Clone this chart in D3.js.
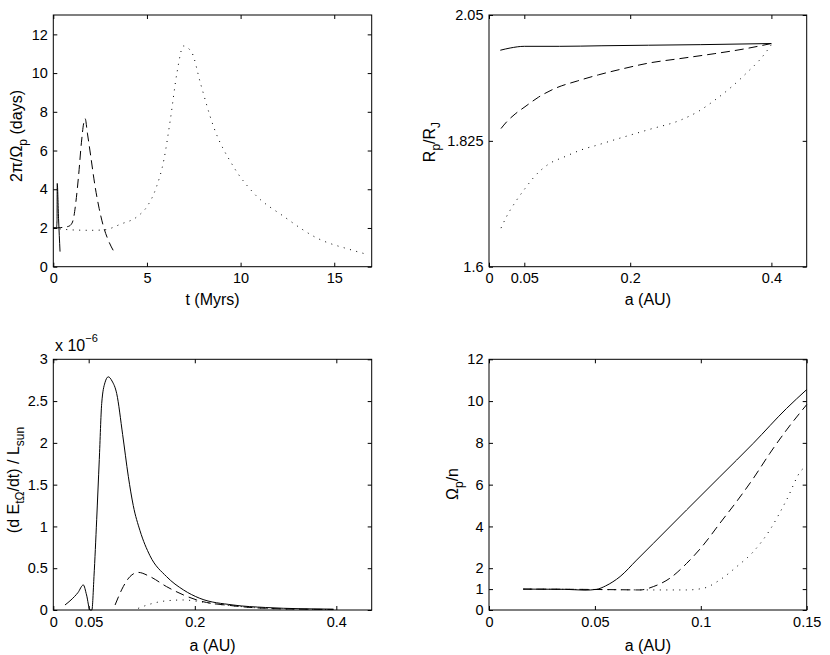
<!DOCTYPE html>
<html>
<head>
<meta charset="UTF-8">
<title>Planet spin evolution</title>
<style>
html, body {
    margin: 0;
    padding: 0;
    background-color: #fff;
}
svg {
    display: block;
    font-family: "Liberation Sans", Arial, Helvetica, sans-serif;
}
.curve {
    fill: none;
    stroke: #000;
    stroke-width: 1;
}
.dash { stroke-dasharray: 9, 5; }
.dot { stroke-dasharray: 1, 5.5; }
.tick text { font-size: 14.5px; fill: #000; }
.tick line { stroke: #000; }
.frame { fill: none; stroke: #000; stroke-width: 1; }
.lbl { font-size: 16px; fill: #000; }
</style>
</head>
<body>
<svg id="fig" width="830" height="655"></svg>
<script src="https://cdn.jsdelivr.net/npm/d3@7/dist/d3.min.js"></script>
<script>
// top left: 2pi/Omega_p (days) against t (Myrs)
let tSolid = [0, 0.1, 0.17, 0.2, 0.21, 0.28, 0.36];
let pSolid = [2.0, 2.0, 2.03, 2.4, 4.3, 2.5, 0.78];
let tDash = [0, 0.4, 0.8, 1.0, 1.1, 1.2, 1.35, 1.5, 1.62, 1.7, 1.82, 2.0, 2.23, 2.45, 2.68, 2.9, 3.1, 3.3];
let pDash = [2.0, 2.02, 2.08, 2.25, 2.6, 3.3, 4.7, 6.4, 7.4, 7.65, 6.9, 5.7, 4.15, 3.0, 2.07, 1.45, 1.02, 0.68];
let tDot = [0, 1, 2, 2.7, 3.6, 4.5, 5.0, 5.5, 5.9, 6.25, 6.6, 6.95, 7.4, 7.85, 8.55, 9.6, 10.7, 12.3, 14.1, 15.9, 16.7];
let pDot = [2.0, 1.9, 1.88, 1.9, 2.2, 2.6, 3.1, 4.1, 5.5, 7.6, 10.0, 11.4, 11.05, 9.5, 7.25, 5.2, 3.8, 2.6, 1.47, 0.87, 0.65];

// top right: Rp/RJ against a (AU)
let aRSolid = [0.016, 0.03, 0.05, 0.1, 0.16, 0.226, 0.3, 0.4];
let rSolid = [1.987, 1.991, 1.994, 1.994, 1.995, 1.996, 1.997, 1.999];
let aRDash = [0.017, 0.025, 0.037, 0.051, 0.07, 0.094, 0.125, 0.155, 0.19, 0.226, 0.27, 0.32, 0.36, 0.4];
let rDash = [1.847, 1.859, 1.873, 1.886, 1.903, 1.919, 1.932, 1.943, 1.954, 1.964, 1.972, 1.981, 1.989, 1.999];
let aRDot = [0.017, 0.025, 0.037, 0.05, 0.065, 0.084, 0.108, 0.131, 0.155, 0.178, 0.226, 0.273, 0.297, 0.32, 0.344, 0.367, 0.385, 0.4];
let rDot = [1.669, 1.69, 1.715, 1.738, 1.762, 1.783, 1.797, 1.809, 1.818, 1.827, 1.845, 1.863, 1.878, 1.898, 1.922, 1.949, 1.972, 1.997];

// bottom left: (dE/dt)/Lsun in units of 1e-6 against a (AU)
let aESolid = [0.0165, 0.025, 0.035, 0.0424, 0.047, 0.0519, 0.0545, 0.0575, 0.0613, 0.065, 0.0684, 0.073, 0.0777, 0.083, 0.0896, 0.098, 0.106, 0.113, 0.1225, 0.1366, 0.16, 0.184, 0.207, 0.254, 0.3, 0.35, 0.396];
let eSolid = [0.06, 0.12, 0.21, 0.30, 0.18, 0.0, 0.0, 0.4, 1.08, 1.8, 2.47, 2.72, 2.79, 2.74, 2.59, 2.1, 1.6, 1.25, 0.95, 0.65, 0.40, 0.24, 0.14, 0.06, 0.03, 0.015, 0.01];
let aEDash = [0.0873, 0.0989, 0.1084, 0.12, 0.1366, 0.16, 0.184, 0.2027, 0.254, 0.3, 0.35, 0.396];
let eDash = [0.06, 0.28, 0.40, 0.45, 0.40, 0.28, 0.18, 0.12, 0.05, 0.02, 0.01, 0.006];
let aEDot = [0.12, 0.1366, 0.16, 0.184, 0.207, 0.231, 0.254, 0.3, 0.35, 0.396];
let eDot = [0.02, 0.07, 0.11, 0.12, 0.10, 0.07, 0.05, 0.02, 0.01, 0.005];

// bottom right: Omega_p/n against a (AU)
let aOSolid = [0.0162, 0.0359, 0.0453, 0.0508, 0.055, 0.0585, 0.0619, 0.0697, 0.0776, 0.0933, 0.109, 0.1248, 0.1405, 0.15];
let oSolid = [1.0, 0.99, 0.95, 0.99, 1.15, 1.35, 1.6, 2.39, 3.19, 4.79, 6.38, 7.98, 9.65, 10.55];
let aODash = [0.0162, 0.04, 0.0619, 0.0713, 0.0776, 0.0854, 0.0933, 0.1012, 0.109, 0.1169, 0.1248, 0.1326, 0.1405, 0.15];
let oDash = [1.0, 0.99, 0.97, 0.96, 1.12, 1.52, 2.23, 3.11, 4.15, 5.19, 6.3, 7.5, 8.62, 9.83];
let aODot = [0.0162, 0.05, 0.0776, 0.0933, 0.1012, 0.109, 0.1169, 0.1248, 0.1326, 0.1405, 0.1476, 0.1495];
let oDot = [1.0, 0.98, 0.96, 0.96, 1.04, 1.44, 2.07, 2.79, 3.83, 5.27, 6.7, 6.85];

// ticks
let tTicks = [0, 5, 10, 15], pTicks = [0, 2, 4, 6, 8, 10, 12];
let aTicksWide = [0, 0.05, 0.2, 0.4], rTicks = [1.6, 1.825, 2.05];
let eTicks = [0, 0.5, 1, 1.5, 2, 2.5, 3];
let aTicksNarrow = [0, 0.05, 0.1, 0.15], oTicks = [0, 1, 2, 4, 6, 8, 10, 12];

let svg = d3.select('#fig');
let tickLen = 4;

function panel(box, xDom, yDom, xTicks, yTicks) {
    let x = d3.scaleLinear().domain(xDom).range([box.left, box.right]);
    let y = d3.scaleLinear().domain(yDom).range([box.bottom, box.top]);
    let g = svg.append('g');

    g.append('g')
        .attr('transform', `translate(0,${box.bottom})`)
        .call(d3.axisBottom(x).tickValues(xTicks).tickFormat(String)
            .tickSizeInner(-tickLen).tickSizeOuter(0).tickPadding(6.5));
    g.append('g')
        .attr('transform', `translate(0,${box.top})`)
        .call(d3.axisTop(x).tickValues(xTicks).tickFormat('')
            .tickSizeInner(-tickLen).tickSizeOuter(0));
    g.append('g')
        .attr('transform', `translate(${box.left},0)`)
        .call(d3.axisLeft(y).tickValues(yTicks).tickFormat(String)
            .tickSizeInner(-tickLen).tickSizeOuter(0).tickPadding(5.5));
    g.append('g')
        .attr('transform', `translate(${box.right},0)`)
        .call(d3.axisRight(y).tickValues(yTicks).tickFormat('')
            .tickSizeInner(-tickLen).tickSizeOuter(0));
    g.selectAll('.domain').remove();
    g.selectAll('g').attr('font-family', null).attr('font-size', null);

    g.append('rect')
        .attr('class', 'frame')
        .attr('x', box.left).attr('y', box.top)
        .attr('width', box.right - box.left)
        .attr('height', box.bottom - box.top);

    return {g: g, x: x, y: y, box: box};
}

function series(p, xs, ys, cls) {
    let line = d3.line()
        .x((d) => p.x(d[0]))
        .y((d) => p.y(d[1]))
        .curve(d3.curveMonotoneX);
    p.g.append('path')
        .attr('class', 'curve ' + cls)
        .attr('d', line(xs.map((v, i) => [v, ys[i]])));
}

// label made of [text, isSub] pieces
function label(p, parts, x, y, rotate) {
    let t = p.g.append('text')
        .attr('class', 'lbl')
        .attr('text-anchor', 'middle')
        .attr('transform', `translate(${x},${y})` + (rotate ? ' rotate(-90)' : ''));
    let shifted = false;
    parts.forEach((pt) => {
        let s = t.append('tspan').text(pt[0]);
        if (pt[1] && !shifted) { s.attr('dy', 4.5).attr('font-size', 12); shifted = true; }
        else if (pt[1]) { s.attr('font-size', 12); }
        else if (shifted) { s.attr('dy', -4.5); shifted = false; }
    });
}

let topRow = {top: 15, bottom: 266.7}, botRow = {top: 359.3, bottom: 610};
let leftCol = {left: 53.3, right: 371.7}, rightCol = {left: 489, right: 806.7};

// top left
let p1 = panel(Object.assign({}, topRow, leftCol), [0, 17], [0, 13], tTicks, pTicks);
series(p1, tDot, pDot, 'dot');
series(p1, tDash, pDash, 'dash');
series(p1, tSolid, pSolid, '');
label(p1, [['t (Myrs)']], (leftCol.left + leftCol.right) / 2, 305, false);
label(p1, [['2π/Ω'], ['p', 1], [' (days)']], 22, 136, true);

// top right
let p2 = panel(Object.assign({}, topRow, rightCol), [0, 0.45], [1.6, 2.05], aTicksWide, rTicks);
series(p2, aRDot, rDot, 'dot');
series(p2, aRDash, rDash, 'dash');
series(p2, aRSolid, rSolid, '');
label(p2, [['a (AU)']], (rightCol.left + rightCol.right) / 2, 305, false);
label(p2, [['R'], ['p', 1], ['/R'], ['J', 1]], 435, 142, true);

// bottom left
let p3 = panel(Object.assign({}, botRow, leftCol), [0, 0.45], [0, 3], aTicksWide, eTicks);
series(p3, aEDot, eDot, 'dot');
series(p3, aEDash, eDash, 'dash');
series(p3, aESolid, eSolid, '');
label(p3, [['a (AU)']], (leftCol.left + leftCol.right) / 2, 651, false);
label(p3, [['(d E'], ['tΩ', 1], ['/dt) / L'], ['sun', 1]], 19, 480, true);
let mult = p3.g.append('text').attr('class', 'lbl').attr('x', 55).attr('y', 351);
mult.append('tspan').text('x 10');
mult.append('tspan').attr('font-size', 11).attr('dy', -9).text('−6');

// bottom right
let p4 = panel(Object.assign({}, botRow, rightCol), [0, 0.15], [0, 12], aTicksNarrow, oTicks);
series(p4, aODot, oDot, 'dot');
series(p4, aODash, oDash, 'dash');
series(p4, aOSolid, oSolid, '');
label(p4, [['a (AU)']], (rightCol.left + rightCol.right) / 2, 651, false);
label(p4, [['Ω'], ['p', 1], ['/n']], 458, 484, true);
</script>
</body>
</html>
